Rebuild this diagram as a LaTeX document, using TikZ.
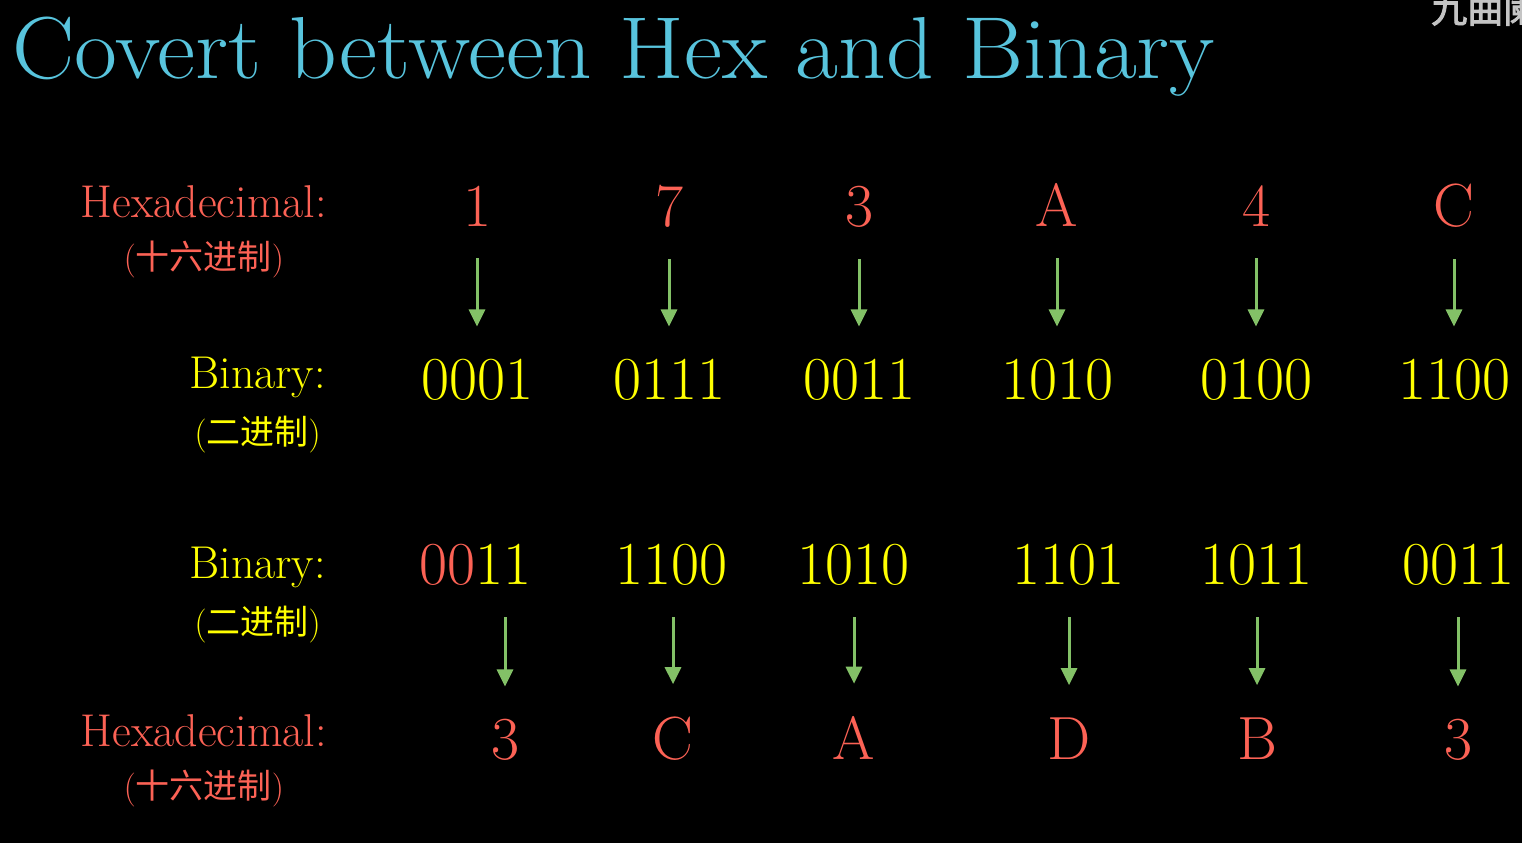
\documentclass[tikz,border=0pt]{standalone}
\usepackage{fontspec}
\usetikzlibrary{arrows.meta}
\newfontfamily\cjk{Noto Sans CJK SC}
\newfontfamily\wmfont{Noto Sans CJK SC}[FakeBold=2.5]
\definecolor{mblue}{HTML}{58C4DD}
\definecolor{mred}{HTML}{FC6255}
\definecolor{myellow}{HTML}{FFFF00}
\definecolor{mgreen}{HTML}{83C167}
\definecolor{wmgrey}{HTML}{C4C4C4}
\tikzset{
  digit/.style={inner sep=0pt, anchor=base, font=\fontsize{61}{61}\selectfont},
  hexd/.style={digit, text=mred},
  bind/.style={digit, text=myellow},
  rowlabel/.style={inner sep=0pt, anchor=east, align=center,
    font=\fontsize{46}{56}\selectfont},
  conv/.style={draw=mgreen, line width=3pt,
    -{Triangle[length=17pt,width=16pt]}, shorten <=32pt, shorten >=32pt},
}
% second line of a row label: Chinese name in parentheses
\newcommand{\zh}[1]{{\fontsize{34}{40}\selectfont(\cjk #1\normalfont)}}
\begin{document}
\begin{tikzpicture}[x=1pt,y=-1pt]
  \fill[black] (0,0) rectangle (1522,843);
  \useasboundingbox (0,0) rectangle (1522,843);

  % title
  \node[inner sep=0pt, anchor=base west, text=mblue, xscale=1.06,
        font=\fontsize{88}{88}\selectfont] (title) at (12,78)
        {Covert between Hex and Binary};

  % watermark, cut by the page edge
  \begin{scope}
    \clip (0,0) rectangle (1522,843);
    \node[inner sep=0pt, anchor=west, text=wmgrey,
          font=\wmfont\fontsize{36}{36}\selectfont] (wm) at (1431,9) {九曲阑干};
  \end{scope}

  % ---- hex to binary ----
  \node[rowlabel, text=mred] (lhex1) at (327,232)
    {Hexadecimal:\\[-4pt]\zh{十六进制}};
  \node[rowlabel, text=myellow] (lbin1) at (326,405)
    {Binary:\\[0pt]\zh{二进制}};

  \foreach \n/\x/\h/\b in {1/477/1/0001, 2/669/7/0111, 3/859/3/0011,
                           4/1057/A/1010, 5/1256/4/0100, 6/1454/C/1100} {
    \node[hexd] (h\n) at (\x,226) {\h};
    \node[bind] (b\n) at (\x,399) {\b};
    \draw[conv] (h\n.south) -- (h\n.south |- b\n.north);
  }

  % ---- binary to hex ----
  \node[rowlabel, text=myellow] (lbin2) at (326,595)
    {Binary:\\[0pt]\zh{二进制}};
  \node[rowlabel, text=mred] (lhex2) at (327,761)
    {Hexadecimal:\\[-4pt]\zh{十六进制}};

  \node[bind] (c1) at (475,584) {\textcolor{mred}{00}11};
  \node[bind] (c2) at (671,584) {1100};
  \node[bind] (c3) at (853,584) {1010};
  \node[bind] (c4) at (1068,584) {1101};
  \node[bind] (c5) at (1256,584) {1011};
  \node[bind] (c6) at (1458,584) {0011};

  \foreach \n/\x/\h in {1/505/3, 2/673/C, 3/854/A, 4/1069/D, 5/1257/B, 6/1458/3} {
    \node[hexd] (d\n) at (\x,759) {\h};
    \draw[conv] (d\n.north |- c\n.south) -- (d\n.north);
  }
\end{tikzpicture}
\end{document}
